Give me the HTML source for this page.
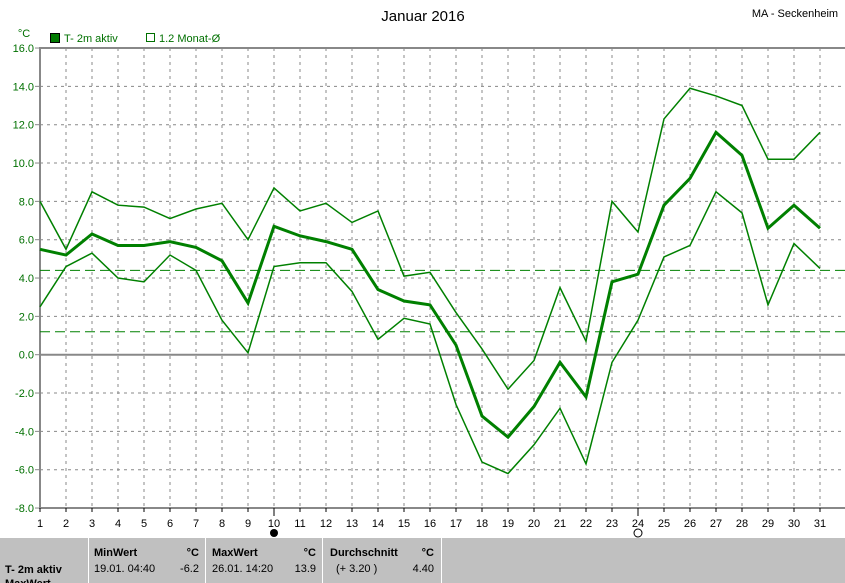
<!DOCTYPE html><html><head><style>
body{margin:0;width:845px;height:583px;overflow:hidden;background:#fff;font-family:"Liberation Sans",sans-serif}
svg{position:absolute;left:0;top:0}
</style></head><body>
<svg id="s" width="845" height="583" xmlns="http://www.w3.org/2000/svg" font-family="Liberation Sans, sans-serif">
<text x="423" y="21" font-size="15" text-anchor="middle">Januar 2016</text>
<text x="795" y="17" font-size="11" text-anchor="middle">MA - Seckenheim</text>
<text x="24" y="37" font-size="11" fill="#007000" text-anchor="middle">°C</text>
<rect x="50.5" y="33.5" width="9" height="9" fill="#007a00" stroke="#000"/>
<text x="64" y="42" font-size="11" fill="#007000">T- 2m aktiv</text>
<rect x="146.5" y="33.5" width="8" height="8" fill="none" stroke="#007000"/>
<text x="159" y="42" font-size="11" fill="#007000">1.2 Monat-Ø</text>
<g id="g"></g>
<rect x="0" y="538" width="845" height="45" fill="#c0c0c0"/>
<g stroke="#fff" stroke-width="1"><line x1="88.5" y1="538" x2="88.5" y2="583"/><line x1="205.5" y1="538" x2="205.5" y2="583"/><line x1="322.5" y1="538" x2="322.5" y2="583"/><line x1="441.5" y1="538" x2="441.5" y2="583"/></g>
<g font-size="11"><text x="5" y="573" font-weight="bold">T- 2m aktiv</text>
<text x="5" y="587" font-weight="bold">MaxWert</text>
<text x="94" y="556" font-weight="bold">MinWert</text><text x="199" y="556" font-weight="bold" text-anchor="end">°C</text>
<text x="94" y="572">19.01.  04:40</text><text x="199" y="572" text-anchor="end">-6.2</text>
<text x="212" y="556" font-weight="bold">MaxWert</text><text x="316" y="556" font-weight="bold" text-anchor="end">°C</text>
<text x="212" y="572">26.01.  14:20</text><text x="316" y="572" text-anchor="end">13.9</text>
<text x="330" y="556" font-weight="bold">Durchschnitt</text><text x="434" y="556" font-weight="bold" text-anchor="end">°C</text>
<text x="336" y="572">(+ 3.20 )</text><text x="434" y="572" text-anchor="end">4.40</text></g>
</svg>
<script>
var X=d=>40+26*(d-1),Y=v=>354.7-19.167*v,h='';
for(var d=2;d<=31;d++)h+=`<line x1="${X(d)}" y1="48" x2="${X(d)}" y2="508" stroke="#888" stroke-dasharray="3,4"/>`;
for(var v=-6;v<=14;v+=2)if(v)h+=`<line x1="40" y1="${Y(v)}" x2="845" y2="${Y(v)}" stroke="#888" stroke-dasharray="3,4"/>`;
for(var v=-8;v<=16;v+=2){h+=`<text x="34" y="${Y(v)+4}" font-size="11" fill="#007000" text-anchor="end">${v.toFixed(1)}</text><line x1="35" y1="${Y(v)}" x2="40" y2="${Y(v)}" stroke="#888"/>`;}
h+=`<line x1="40" y1="${Y(0)}" x2="845" y2="${Y(0)}" stroke="#888" stroke-width="2"/>`;
h+=`<line x1="40" y1="48" x2="845" y2="48" stroke="#888" stroke-width="2"/><line x1="40" y1="508" x2="845" y2="508" stroke="#888" stroke-width="2"/><line x1="40" y1="47" x2="40" y2="509" stroke="#888" stroke-width="2"/>`;
for(var d=1;d<=31;d++)h+=`<text x="${X(d)}" y="527" font-size="11" text-anchor="middle">${d}</text><line x1="${X(d)}" y1="508" x2="${X(d)}" y2="${d==10||d==24?516:512}" stroke="#000"/>`;
h+=`<circle cx="${X(10)}" cy="533" r="4" fill="#000"/><circle cx="${X(24)}" cy="533" r="4" fill="none" stroke="#000"/>`;
[4.4,1.2].forEach(v=>h+=`<line x1="40" y1="${Y(v)}" x2="845" y2="${Y(v)}" stroke="#008000" stroke-dasharray="10,5"/>`);
var mx=[8.0,5.5,8.5,7.8,7.7,7.1,7.6,7.9,6.0,8.7,7.5,7.9,6.9,7.5,4.1,4.3,2.2,0.3,-1.8,-0.3,3.5,0.7,8.0,6.4,12.3,13.9,13.5,13.0,10.2,10.2,11.6];
var me=[5.5,5.2,6.3,5.7,5.7,5.9,5.6,4.9,2.7,6.7,6.2,5.9,5.5,3.4,2.8,2.6,0.5,-3.2,-4.3,-2.7,-0.4,-2.2,3.8,4.2,7.8,9.2,11.6,10.4,6.6,7.8,6.6];
var mn=[2.5,4.6,5.3,4.0,3.8,5.2,4.4,1.8,0.1,4.6,4.8,4.8,3.3,0.8,1.9,1.6,-2.6,-5.6,-6.2,-4.7,-2.8,-5.7,-0.4,1.8,5.1,5.7,8.5,7.4,2.6,5.8,4.5];
[[mx,1.5],[mn,1.5],[me,3]].forEach(a=>h+=`<polyline fill="none" stroke="#008000" stroke-width="${a[1]}" points="${a[0].map((v,i)=>X(i+1)+','+Y(v)).join(' ')}"/>`);
document.getElementById('g').innerHTML=h;
</script>
</body></html>
